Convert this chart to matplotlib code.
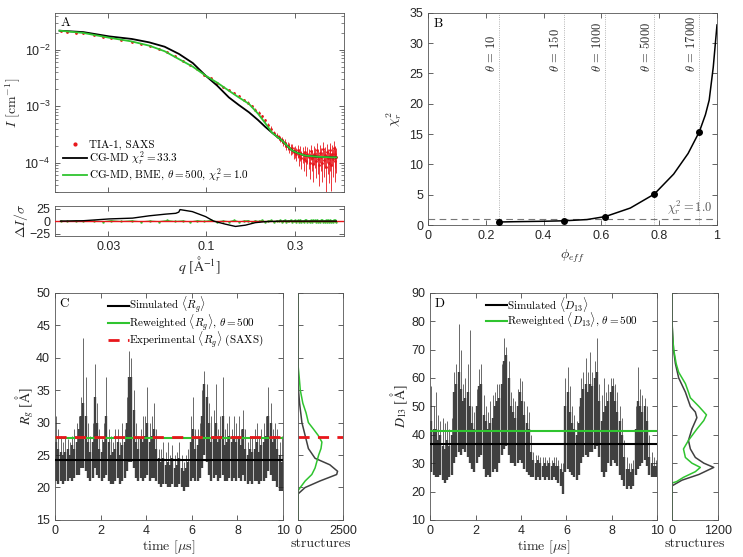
#!/usr/bin/env python3
"""SAXS fit, chi2 vs phi_eff, Rg and D13 time series with histograms."""

import matplotlib
matplotlib.use("Agg")
import matplotlib.pyplot as plt
import numpy as np
from matplotlib.lines import Line2D
from matplotlib.ticker import NullLocator

# ---------------- panel A: SAXS curves ----------------
Q_FIT = [0.0164, 0.022, 0.0303, 0.040, 0.0496, 0.060, 0.0717, 0.085, 0.0996,
         0.115, 0.1327, 0.150, 0.170, 0.190, 0.208, 0.226, 0.240, 0.256, 0.270,
         0.290, 0.310, 0.341, 0.400, 0.474, 0.500]
I_SIM = [0.0217, 0.0205, 0.0172, 0.0155, 0.0135, 0.0113, 0.0084, 0.0058,
         0.00347, 0.0023, 0.00143, 0.00105, 0.00078, 0.00057, 0.00043, 0.00034,
         0.00029, 0.000246, 0.000205, 0.000164, 0.000148, 0.000133, 0.000127,
         0.000124, 0.000124]
I_BME = [0.0217, 0.0198, 0.0163, 0.0140, 0.0118, 0.0094, 0.0068, 0.0050,
         0.00347, 0.0026, 0.00188, 0.00143, 0.00110, 0.00074, 0.00050, 0.00034,
         0.00029, 0.000246, 0.000205, 0.000164, 0.000148, 0.000133, 0.000127,
         0.000124, 0.000124]

Q_EXP = [0.0166, 0.018, 0.020, 0.022, 0.025, 0.028, 0.031, 0.035, 0.040, 0.045,
         0.050, 0.056, 0.062, 0.068, 0.075, 0.082, 0.090, 0.098, 0.106, 0.115,
         0.124, 0.133, 0.142, 0.151, 0.160, 0.168, 0.176, 0.184, 0.192, 0.200,
         0.208, 0.216, 0.224, 0.232, 0.240, 0.245,
         0.250, 0.255, 0.260, 0.265, 0.270, 0.275, 0.280, 0.285, 0.290, 0.295,
         0.300, 0.305, 0.310, 0.315, 0.320, 0.325, 0.330, 0.335, 0.340, 0.345,
         0.350, 0.355, 0.360, 0.365, 0.370, 0.375, 0.380, 0.385, 0.390, 0.395,
         0.400, 0.405, 0.410, 0.415, 0.420, 0.425, 0.430, 0.435, 0.440, 0.445,
         0.450, 0.455, 0.460, 0.465, 0.470, 0.475, 0.480, 0.485, 0.490, 0.495,
         0.500]
I_EXP = [0.0217, 0.0210, 0.0201, 0.0195, 0.0183, 0.0170, 0.0160, 0.0149,
         0.0139, 0.0127, 0.0116, 0.0103, 0.0090, 0.0076, 0.0063, 0.0054, 0.0045,
         0.0036, 0.0031, 0.0026, 0.0022, 0.0019, 0.0017, 0.00150, 0.00128,
         0.00115, 0.00100, 0.00087, 0.00076, 0.00066, 0.00056, 0.00047, 0.00040,
         0.00034, 0.00030, 0.00028,
         2.6e-4, 2.5e-4, 2.3e-4, 2.25e-4, 2.0e-4, 2.0e-4, 1.85e-4, 1.75e-4,
         1.8e-4, 1.55e-4, 1.6e-4, 1.45e-4, 1.65e-4, 1.3e-4, 1.5e-4, 1.2e-4,
         1.45e-4, 1.15e-4, 1.55e-4, 1.05e-4, 1.4e-4, 1.25e-4, 1.0e-4, 1.6e-4,
         1.2e-4, 0.95e-4, 1.45e-4, 1.3e-4, 1.05e-4, 1.7e-4, 1.15e-4, 0.9e-4,
         1.5e-4, 1.25e-4, 1.0e-4, 1.75e-4, 1.1e-4, 1.35e-4, 0.85e-4, 1.55e-4,
         1.2e-4, 1.0e-4, 1.65e-4, 1.3e-4, 0.9e-4, 1.45e-4, 1.15e-4, 1.8e-4,
         1.05e-4, 1.4e-4, 1.25e-4]
E_EXP = [0.0002, 0.0002, 0.0002, 0.0002, 0.0002, 0.0002, 0.0002, 0.0002,
         0.0002, 0.0002, 0.0002, 0.0002, 0.0002, 0.0001, 0.0001, 0.0001, 0.0001,
         0.0001, 0.00008, 0.00008, 0.00008, 0.00008, 0.00007, 0.00007, 0.00006,
         0.00006, 0.00005, 0.00005, 0.00005, 0.00004, 0.00004, 0.00004, 0.00004,
         0.00003, 0.00003, 0.00003,
         3.0e-5, 3.0e-5, 3.2e-5, 3.2e-5, 3.4e-5, 3.4e-5, 3.6e-5, 3.6e-5, 3.8e-5,
         3.8e-5, 4.0e-5, 4.0e-5, 4.2e-5, 4.2e-5, 4.4e-5, 4.4e-5, 4.5e-5, 4.5e-5,
         4.6e-5, 4.6e-5, 4.7e-5, 4.7e-5, 4.8e-5, 4.8e-5, 4.9e-5, 4.9e-5, 5.0e-5,
         5.0e-5, 5.1e-5, 5.1e-5, 5.2e-5, 5.2e-5, 5.3e-5, 5.3e-5, 5.4e-5, 5.4e-5,
         5.5e-5, 5.5e-5, 5.6e-5, 5.6e-5, 5.7e-5, 5.7e-5, 5.8e-5, 5.8e-5, 5.9e-5,
         5.9e-5, 6.0e-5, 6.0e-5, 6.0e-5, 6.0e-5, 6.0e-5]

Q_RES_SIM = [0.0166, 0.022, 0.0303, 0.0404, 0.0496, 0.0609, 0.0689, 0.0715,
             0.0726, 0.0845, 0.0996, 0.110, 0.127, 0.144, 0.163, 0.184, 0.208,
             0.253, 0.35, 0.50]
RES_SIM = [0.0, 0.8, 4.4, 6.0, 10.6, 14.0, 15.6, 18.0, 23.0, 19.0, 9.0, 0.0,
           -6.0, -10.6, -8.0, -3.0, -1.0, 0.0, 0.0, 0.0]
RES_BME = [0.3, -0.5, 0.8, -0.7, 0.4, -1.0, 1.2, -0.6, 0.9, -1.2, 0.5, -0.8,
           1.4, -0.4, 0.7, -1.5, 1.0, -0.3, 1.6, -1.1, 0.6, -0.9, 1.8, -1.4,
           0.5, 1.2, -1.7, 0.8, -0.6, 2.0, -1.3, 0.4, 1.5, -2.1, 0.9, -0.5,
           1.9, -1.6, 0.7, 2.2, -1.8, 1.1, -0.7, 2.4, -2.0, 0.6, 1.7, -2.3,
           1.3, -0.9, 2.5, -1.9, 0.8, -2.4, 1.6, 2.1, -1.5, 0.9, -2.2, 1.8,
           -1.0, 2.3, -0.6, 1.4, -2.1, 2.6, -1.2, 0.5, -2.5, 1.9, 2.2, -1.7,
           0.8, -2.3, 1.5, -0.9, 2.7, -1.4, 0.6, 2.0, -2.6, 1.1, -1.8, 2.4,
           -0.7, 1.7, -2.0]

# ---------------- panel B: chi2 vs phi_eff ----------------
PHI_CURVE = [0.247, 0.30, 0.40, 0.471, 0.55, 0.614, 0.70, 0.783, 0.85, 0.90,
             0.939, 0.960, 0.973, 0.987, 1.0]
CHI2_CURVE = [0.5, 0.55, 0.62, 0.7, 0.9, 1.4, 2.8, 5.1, 8.4, 11.8, 15.4, 18.2,
              20.6, 26.0, 33.0]
PHI_THETA = [0.247, 0.471, 0.614, 0.783, 0.939]
CHI2_THETA = [0.5, 0.7, 1.4, 5.1, 15.4]
THETA_LABELS = ["10", "150", "1000", "5000", "17000"]

# ---------------- panels C/D: time series (0.1 us bins) ----------------
T_BIN = np.arange(100) * 0.1 + 0.05

RG_LO = [21, 20.5, 21, 20.5, 21, 21, 21.5, 21, 21.5, 22,
         22, 23, 23, 22.5, 21.5, 21, 21.5, 23, 22, 21.5,
         21, 21.5, 22, 21, 20.5, 20.5, 21, 21.5, 20.5, 21,
         21.5, 22.5, 24, 24, 23, 21.5, 21, 21.5, 21, 21.5,
         22, 21, 21.5, 21.5, 21, 20.5, 20, 20.5, 20.5, 20,
         20, 20.5, 20, 20, 20.5, 20, 19.5, 20, 20, 21,
         21.5, 21, 21, 21.5, 23, 25, 24, 22, 21, 21.5,
         22, 21, 21.5, 22, 21, 21, 21.5, 21, 21.5, 21,
         21.5, 21, 22, 21, 20.5, 21, 20.5, 21, 21, 20.5,
         21, 21, 21.5, 22.5, 22, 21, 21, 20, 19.5, 19.5]
RG_HI = [27, 26, 25.5, 25, 25.5, 26, 25, 26.5, 26, 27,
         29, 31, 33, 31, 27, 25.5, 27, 34, 30, 26,
         25.5, 27, 31, 27, 25, 25.5, 26, 27, 25, 26.5,
         27, 30, 37, 37, 32, 27, 26, 27.5, 27, 28,
         30, 27, 28, 29, 26, 24.5, 24, 24.5, 23.5, 24,
         23.5, 24.5, 23, 23.5, 24.5, 23, 22.5, 23, 24, 27,
         29, 26, 26.5, 27.5, 31, 36, 34, 30, 27, 28,
         30, 27, 28, 31, 26.5, 27, 28, 27, 28, 27,
         28, 26.5, 29, 26, 25, 26, 25.5, 26, 27, 25.5,
         26.5, 27, 28, 31, 30, 27, 28, 26, 25, 24]
RG_PK = [31, 29, 28, 27, 28, 27.5, 27, 28, 29, 30,
         31, 34, 43, 37, 30, 28, 30, 39, 33, 29,
         27.5, 30, 37, 29, 28, 27, 29, 29, 27, 30,
         29, 34, 41, 40, 35, 30, 28, 29, 31, 31,
         35.5, 30, 31, 33, 29, 26, 26, 27, 25.5, 27,
         25, 26.5, 25, 25.5, 27, 25, 24, 25, 26, 31,
         34, 29, 29, 30, 35, 38, 36, 33, 31, 32,
         36, 29, 31, 37, 29, 30, 31, 29, 31, 30,
         31, 29, 32, 29, 27, 28, 28, 29, 30, 28,
         29, 30, 31, 35.5, 33, 29, 30, 29, 27, 28]

D_LO = [27, 26, 25, 25, 26, 24, 23, 24, 25, 26,
        30, 32, 34, 33, 35, 34, 32, 30, 28, 27,
        30, 32, 33, 28, 25, 26, 25, 27, 28, 27,
        30, 33, 35, 36, 33, 30, 30, 29, 30, 31,
        30, 28, 27, 26, 25, 25, 24, 25, 24, 25,
        24, 25, 24, 24, 25, 24, 23, 22, 19, 27,
        28, 27, 26, 25, 24, 26, 30, 32, 33, 32,
        34, 34, 35, 36, 32, 27, 25, 27, 30, 29,
        31, 30, 29, 26, 24, 22, 21, 22, 21, 22,
        26, 28, 29, 30, 31, 29, 26, 25, 25, 25]
D_HI = [45, 42, 42, 38, 40, 36, 35, 38, 36, 40,
        55, 58, 62, 56, 52, 53, 55, 50, 44, 42,
        50, 57, 58, 47, 45, 42, 44, 46, 50, 52,
        53, 58, 66, 68, 60, 50, 48, 46, 50, 55,
        52, 47, 44, 42, 34, 31, 30, 31, 30, 29,
        30, 29, 30, 29, 30, 29, 29, 28, 27, 50,
        55, 48, 44, 42, 40, 44, 53, 56, 58, 55,
        58, 57, 60, 62, 52, 45, 48, 50, 52, 55,
        57, 52, 48, 45, 40, 32, 28, 28, 27, 28,
        42, 52, 50, 48, 50, 45, 32, 30, 29, 29]
D_PK = [57, 50, 55, 47, 45, 46, 44, 45, 42, 46,
        62, 65, 79, 70, 58, 60, 65, 77, 50, 48,
        56, 63, 65, 54, 50, 48, 52, 54, 55, 58,
        58, 65, 74, 71, 66, 55, 53, 52, 56, 60,
        59, 52, 50, 48, 40, 34, 33, 33, 32, 32,
        32, 31, 32, 31, 32, 32, 31, 30, 30, 60,
        64, 57, 50, 47, 45, 50, 60, 62, 67, 62,
        69, 62, 66, 74, 58, 54, 60, 55, 58, 60,
        60, 58, 55, 50, 46, 38, 32, 30, 30, 31,
        50, 64, 56, 54, 53, 50, 40, 34, 32, 31]

RG_SIM, RG_BME, RG_EXP = 24.3, 27.6, 27.8
D_SIM, D_BME = 36.8, 41.3

# ---------------- histograms ----------------
RG_H_SIM_Y = [15, 19, 20, 21, 22, 22.5, 23.5, 24.5, 26, 28, 30, 33, 36, 50]
RG_H_SIM_X = [0, 0, 400, 1220, 2150, 2200, 1770, 950, 580, 400, 220, 90, 0, 0]
RG_H_BME_Y = [15, 19.5, 20, 21, 22, 23, 24, 25, 26, 27, 28, 29, 30, 31.5, 33,
              35, 37, 39, 50]
RG_H_BME_X = [0, 0, 130, 400, 770, 950, 1050, 1150, 1280, 1330, 1130, 860,
              580, 450, 270, 130, 70, 0, 0]

D_H_SIM_Y = [10, 22, 24, 26, 28.5, 30, 32, 35, 38, 42, 46, 48, 50, 55, 60, 65,
             70, 80, 90]
D_H_SIM_X = [0, 0, 260, 700, 1090, 830, 610, 480, 430, 520, 650, 610, 480, 350,
             175, 90, 40, 0, 0]
D_H_BME_Y = [10, 23, 23.5, 25, 27, 28.5, 30, 32, 35, 38, 42, 45, 47, 50, 53,
             55, 58, 62, 65, 70, 75, 80, 90]
D_H_BME_X = [0, 0, 120, 300, 610, 740, 520, 350, 300, 430, 650, 830, 900, 700,
             480, 430, 350, 175, 110, 45, 15, 0, 0]

BLACK = "black"
DARK = "#404040"
GREEN = "#2fc42f"
RED = "#e8161b"
LABEL_C = "#262626"
SERIF = "cmr10"
STIX = "STIXGeneral"
FS = 9
LEG_FS = 8


def style(ax):
    ax.tick_params(which="both", direction="in", top=True, right=True,
                   colors=LABEL_C, labelsize=FS)
    ax.tick_params(which="major", length=3.5, width=0.5)
    ax.tick_params(which="minor", length=2, width=0.4)
    for s in ax.spines.values():
        s.set_linewidth(0.6)
        s.set_color("#555555")


def panel_letter(ax, s):
    ax.text(0.02, 0.975, s, transform=ax.transAxes, ha="left", va="top",
            fontsize=9.5, family=SERIF)


def series(ax, lo, hi, pk):
    ax.vlines(T_BIN, hi, pk, color=DARK, lw=0.55, zorder=1)
    ax.vlines(T_BIN, lo, hi, color=DARK, lw=1.7, zorder=1)


def main():
    plt.rcParams.update({
        "font.family": ["Liberation Sans", "DejaVu Sans"],
        "font.size": FS,
        "mathtext.fontset": "cm",
        "figure.facecolor": "white",
    })
    fig = plt.figure(figsize=(7.43, 5.57), dpi=100)
    lab = {"fontsize": 10, "color": LABEL_C, "family": SERIF}
    lab_aa = {"fontsize": 10, "color": LABEL_C, "family": STIX,
              "math_fontfamily": "stix"}

    # ---- A ----
    axA = fig.add_axes([0.074, 0.655, 0.389, 0.322])
    axR = fig.add_axes([0.074, 0.576, 0.389, 0.054])
    axA.errorbar(Q_EXP, I_EXP, yerr=E_EXP, fmt=".", ms=2, color=RED,
                 ecolor=RED, elinewidth=0.6, capsize=0, zorder=1)
    axA.plot(Q_FIT, I_SIM, color=BLACK, lw=1.3, zorder=2)
    axA.plot(Q_FIT, I_BME, color=GREEN, lw=1.3, zorder=3)
    axA.set_xscale("log")
    axA.set_yscale("log")
    axA.set_xlim(0.0155, 0.55)
    axA.set_ylim(3e-5, 0.045)
    axA.set_xticks([0.03, 0.1, 0.3])
    axA.xaxis.set_minor_locator(NullLocator())
    axA.set_xticklabels([])
    axA.set_ylabel(r"$I$ [cm$^{-1}$]", labelpad=1, **lab)
    style(axA)
    panel_letter(axA, "A")
    handles = [
        Line2D([], [], ls="none", marker=".", ms=4, color=RED),
        Line2D([], [], color=BLACK, lw=1.3),
        Line2D([], [], color=GREEN, lw=1.3),
    ]
    labels = ["TIA-1, SAXS", r"CG-MD $\chi^2_r = 33.3$",
              r"CG-MD, BME, $\theta = 500$, $\chi^2_r = 1.0$"]
    axA.legend(handles, labels, loc="lower left", frameon=False,
               prop={"family": SERIF, "size": LEG_FS}, handlelength=2.2,
               handletextpad=0.2, labelspacing=0.0, borderaxespad=0.3)

    axR.plot(Q_EXP, RES_BME, color=GREEN, lw=0.6, marker=".", ms=1.5, zorder=2)
    axR.axhline(0, color=RED, lw=1.0, zorder=3)
    axR.plot(Q_RES_SIM, RES_SIM, color=BLACK, lw=1.0, zorder=4)
    axR.set_xscale("log")
    axR.set_xlim(0.0155, 0.55)
    axR.set_ylim(-30, 30)
    axR.set_yticks([-25, 0, 25])
    axR.set_xticks([0.03, 0.1, 0.3])
    axR.set_xticklabels(["0.03", "0.1", "0.3"])
    axR.xaxis.set_minor_locator(NullLocator())
    axR.set_xlabel(r"$q$ [Å$^{-1}$]", labelpad=1, **lab_aa)
    axR.set_ylabel(r"$\Delta I/\sigma$", labelpad=-1, **lab)
    style(axR)

    # ---- B ----
    axB = fig.add_axes([0.576, 0.596, 0.389, 0.381])
    for p, t in zip(PHI_THETA, THETA_LABELS):
        axB.axvline(p, color="#9a9a9a", lw=0.6, ls=":", zorder=1)
        axB.text(p - 0.006, 25.3, rf"$\theta\,=\,{t}$", rotation=90,
                 ha="right", va="bottom", fontsize=FS, color=LABEL_C)
    axB.axhline(1.0, color="#777777", lw=0.8, ls=(0, (6, 4)), zorder=1)
    axB.text(0.985, 1.25, r"$\chi^2_r = 1.0$", ha="right", va="bottom",
             fontsize=FS, color="#555555")
    axB.plot(PHI_CURVE, CHI2_CURVE, color=BLACK, lw=1.1, zorder=2)
    axB.plot(PHI_THETA, CHI2_THETA, ls="none", marker="o", ms=4, color=BLACK,
             zorder=3)
    axB.set_xlim(0, 1)
    axB.set_ylim(0, 35)
    axB.set_xticks([0, 0.2, 0.4, 0.6, 0.8, 1])
    axB.set_xticklabels(["0", "0.2", "0.4", "0.6", "0.8", "1"])
    axB.set_yticks(range(0, 36, 5))
    axB.set_xlabel(r"$\phi_{eff}$", **lab)
    axB.set_ylabel(r"$\chi^2_r$", **lab)
    style(axB)
    panel_letter(axB, "B")

    # ---- C ----
    axC = fig.add_axes([0.074, 0.0665, 0.307, 0.408])
    axCh = fig.add_axes([0.401, 0.0665, 0.0606, 0.408])
    series(axC, RG_LO, RG_HI, RG_PK)
    axC.axhline(RG_SIM, color=BLACK, lw=1.5, zorder=3)
    axC.axhline(RG_BME, color=GREEN, lw=1.5, zorder=3)
    axC.axhline(RG_EXP, color=RED, lw=2.0, ls=(0, (4, 3)), zorder=4)
    axC.set_xlim(0, 10)
    axC.set_ylim(15, 50)
    axC.set_xticks(range(0, 11, 2))
    axC.set_yticks(range(15, 51, 5))
    axC.set_xlabel(r"time [$\mu$s]", labelpad=1, **lab)
    axC.set_ylabel(r"$R_g$ [Å]", labelpad=0, **lab_aa)
    style(axC)
    panel_letter(axC, "C")
    hC = [Line2D([], [], color=BLACK, lw=1.5),
          Line2D([], [], color=GREEN, lw=1.5),
          Line2D([], [], color=RED, lw=2.0, ls=(0, (4, 3)))]
    lC = [r"Simulated $\langle R_g\rangle$",
          r"Reweighted $\langle R_g\rangle$, $\theta = 500$",
          r"Experimental $\langle R_g\rangle$ (SAXS)"]
    axC.legend(hC, lC, loc="upper left", bbox_to_anchor=(0.19, 1.035),
               frameon=False, prop={"family": SERIF, "size": LEG_FS},
               handlelength=1.9, handletextpad=0.0, labelspacing=-0.3)

    axCh.plot(RG_H_SIM_X, RG_H_SIM_Y, color=DARK, lw=1.1)
    axCh.plot(RG_H_BME_X, RG_H_BME_Y, color=GREEN, lw=1.1)
    axCh.axhline(RG_EXP, color=RED, lw=2.0, ls=(0, (4, 3)))
    axCh.set_xlim(0, 2500)
    axCh.set_ylim(15, 50)
    axCh.set_xticks([0, 2500])
    axCh.set_yticks(range(15, 51, 5))
    axCh.set_yticklabels([])
    axCh.set_xlabel("structures", labelpad=1, **lab)
    style(axCh)

    # ---- D ----
    axD = fig.add_axes([0.579, 0.0665, 0.3055, 0.408])
    axDh = fig.add_axes([0.9044, 0.0665, 0.0619, 0.408])
    series(axD, D_LO, D_HI, D_PK)
    axD.axhline(D_SIM, color=BLACK, lw=1.5, zorder=3)
    axD.axhline(D_BME, color=GREEN, lw=1.5, zorder=3)
    axD.set_xlim(0, 10)
    axD.set_ylim(10, 90)
    axD.set_xticks(range(0, 11, 2))
    axD.set_yticks(range(10, 91, 10))
    axD.set_xlabel(r"time [$\mu$s]", labelpad=1, **lab)
    axD.set_ylabel(r"$D_{13}$ [Å]", labelpad=1, **lab_aa)
    style(axD)
    panel_letter(axD, "D")
    hD = [Line2D([], [], color=BLACK, lw=1.5),
          Line2D([], [], color=GREEN, lw=1.5)]
    lD = [r"Simulated $\langle D_{13}\rangle$",
          r"Reweighted $\langle D_{13}\rangle$, $\theta = 500$"]
    axD.legend(hD, lD, loc="upper left", bbox_to_anchor=(0.2, 1.035),
               frameon=False, prop={"family": SERIF, "size": LEG_FS},
               handlelength=1.9, handletextpad=0.0, labelspacing=-0.3)

    axDh.plot(D_H_SIM_X, D_H_SIM_Y, color=DARK, lw=1.1)
    axDh.plot(D_H_BME_X, D_H_BME_Y, color=GREEN, lw=1.1)
    axDh.set_xlim(0, 1200)
    axDh.set_ylim(10, 90)
    axDh.set_xticks([0, 1200])
    axDh.set_yticks(range(10, 91, 10))
    axDh.set_yticklabels([])
    axDh.set_xlabel("structures", labelpad=1, **lab)
    style(axDh)

    fig.savefig("out.png", dpi=100)
    plt.close(fig)


if __name__ == "__main__":
    main()
